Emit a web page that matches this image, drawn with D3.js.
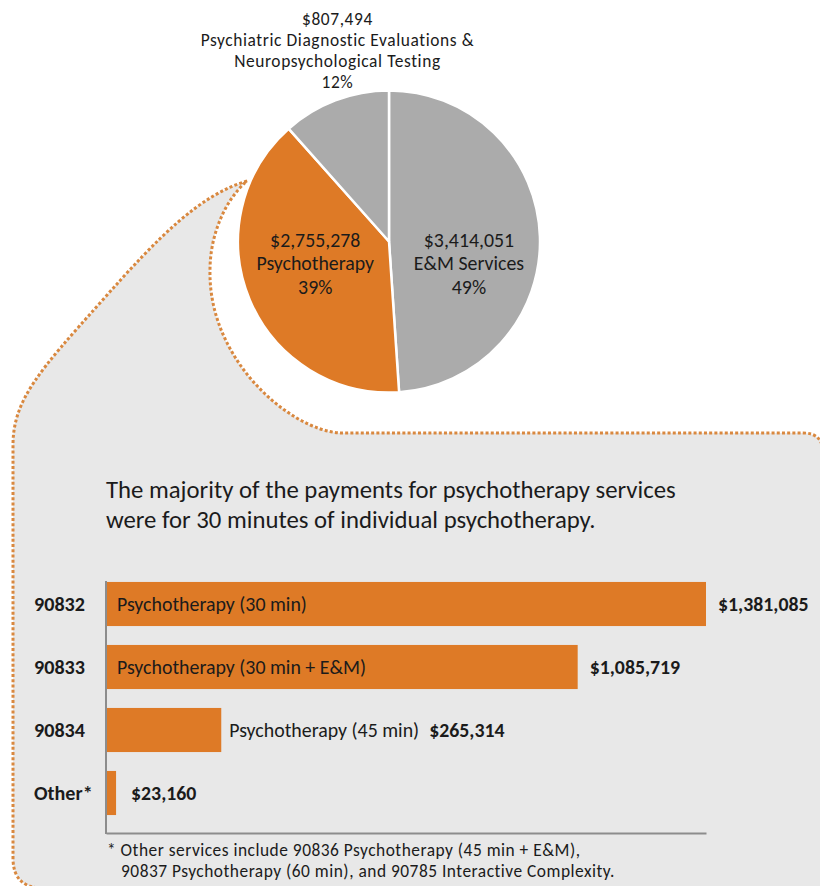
<!DOCTYPE html>
<html><head><meta charset="utf-8">
<script src="https://cdn.jsdelivr.net/npm/d3@7/dist/d3.min.js"></script>
<style>body{margin:0;background:#fff}svg{display:block}</style>
</head><body>
<svg id="c" width="820" height="886"></svg>
<script>
// ---------- data ----------
const pieCategories = ["E&M Services", "Psychotherapy", "Psychiatric Diagnostic Evaluations &|Neuropsychological Testing"];
const pieValues = [3414051, 2755278, 807494];
const pieColors = ["#ABABAB", "#DE7A26", "#ABABAB"];

const titleLines = ["The majority of the payments for psychotherapy services", "were for 30 minutes of individual psychotherapy."];

const barCodes = ["90832", "90833", "90834", "Other*"];
const barDescriptions = ["Psychotherapy (30 min)", "Psychotherapy (30 min + E&M)", "Psychotherapy (45 min)", ""];
const barValues = [1381085, 1085719, 265314, 23160];

const footnoteLines = ["* Other services include 90836 Psychotherapy (45 min + E&M),", "90837 Psychotherapy (60 min), and 90785 Interactive Complexity."];

// ---------- setup ----------
const FONT = "Carlito, Calibri, Lato, 'Open Sans', sans-serif";
const TXT = "#1b1b1b";
const svg = d3.select("#c");
const fmt = d3.format("$,");

function fitFont(str, weight, targetW) {
  const t = svg.append("text").attr("font-family", FONT).attr("font-weight", weight)
    .attr("font-size", 100).text(str);
  const w = t.node().getComputedTextLength();
  t.remove();
  return 100 * targetW / w;
}

// ---------- panel (zoom callout) ----------
svg.append("path")
  .attr("d", "M247,181 C200,195 160,235 100,303 C40,370 13,400 13,445 L13,858 Q13,888 43,888 L823,888 L823,453 Q823,433 803,433 L340,433 C290,430 208,360 210,270 C210,235 225,200 247,181 Z")
  .attr("fill", "#E8E8E8")
  .attr("stroke", "#D9883F")
  .attr("stroke-width", 3)
  .attr("stroke-dasharray", "3 2.2");

// ---------- pie ----------
const cx = 389, cy = 241.5, R = 151;
const pie = d3.pie().sort(null).value(d => d)(pieValues);
const arc = d3.arc().innerRadius(0).outerRadius(R);
const total = d3.sum(pieValues);
const gPie = svg.append("g").attr("transform", `translate(${cx},${cy})`);
gPie.selectAll("path").data(pie).join("path")
  .attr("d", arc)
  .attr("fill", (d, i) => pieColors[i])
  .attr("stroke", "#fff").attr("stroke-width", 2.5).attr("stroke-linejoin", "round");

const innerSize = (fitFont("E&M Services", 400, 110) + fitFont("Psychotherapy", 400, 118)) / 2;
const topFit = fitFont("Psychiatric Diagnostic Evaluations &", 400, 287);
const topSize = Math.min(topFit, 17.4);
const topLS = Math.min(0.6, (287 - 287 * topSize / topFit) / 35);
const topStep = topSize * 1.2 + 0.2;
const labelArc = d3.arc().innerRadius(80).outerRadius(80);

pie.forEach((d, i) => {
  const pct = Math.round(100 * d.value / total) + "%";
  const nameLines = pieCategories[i].split("|");
  const lines = [fmt(d.value), ...nameLines, pct];
  if (i < 2) {
    const [lx] = labelArc.centroid(d);
    const t = gPie.append("text").attr("text-anchor", "middle")
      .attr("font-family", FONT).attr("font-size", innerSize).attr("fill", TXT);
    lines.forEach((ln, k) => t.append("tspan").attr("x", lx).attr("y", 5 + k * 23.5).text(ln));
  } else {
    const mid = (d.startAngle + d.endAngle) / 2;
    const lx = Math.sin(mid) * 145;
    const t = gPie.append("text").attr("text-anchor", "middle")
      .attr("font-family", FONT).attr("font-size", topSize).attr("letter-spacing", topLS).attr("fill", TXT);
    lines.forEach((ln, k) => t.append("tspan").attr("x", lx).attr("y", -R - 66 + k * topStep).text(ln));
  }
});

// ---------- title ----------
const titleSize = fitFont(titleLines[0], 400, 570);
const tTitle = svg.append("text").attr("font-family", FONT).attr("font-size", titleSize).attr("fill", TXT);
titleLines.forEach((ln, k) => tTitle.append("tspan").attr("x", 106).attr("y", 498 + k * Math.max(29.5, titleSize * 1.2 + 0.3)).text(ln));

// ---------- bars ----------
const x = d3.scaleLinear().domain([0, d3.max(barValues)]).range([106, 706]);
const y = d3.scaleBand().domain(barCodes).range([572.5, 824.5]).paddingInner(0.3).paddingOuter(0.15);

const descSize = fitFont(barDescriptions[0], 400, 190);
const valSize = fitFont(fmt(barValues[0]), 700, 90.5);
const codeSize = fitFont(barCodes[0], 700, 51);

const gBars = svg.append("g");
gBars.selectAll("rect").data(barValues).join("rect")
  .attr("x", x(0)).attr("y", (d, i) => y(barCodes[i]))
  .attr("width", d => x(d) - x(0)).attr("height", y.bandwidth())
  .attr("fill", "#DE7A26");

// axis lines
const axisG = svg.append("g").attr("transform", `translate(0,833)`)
  .call(d3.axisBottom(x).ticks(0).tickSizeOuter(0));
axisG.select(".domain").attr("stroke", "#8C8C8C").attr("stroke-width", 2);
svg.append("line").attr("x1", x(0)).attr("x2", x(0)).attr("y1", y(barCodes[0]) - 1).attr("y2", 834)
  .attr("stroke", "#8C8C8C").attr("stroke-width", 2);

barValues.forEach((v, i) => {
  const yc = y(barCodes[i]) + y.bandwidth() / 2;
  svg.append("text").attr("x", 34).attr("y", yc).attr("dy", "0.36em")
    .attr("font-family", FONT).attr("font-weight", 700).attr("font-size", codeSize).attr("fill", TXT)
    .text(barCodes[i]);
  const barW = x(v) - x(0);
  let valX;
  if (barDescriptions[i]) {
    const dt = svg.append("text").attr("y", yc).attr("dy", "0.36em")
      .attr("font-family", FONT).attr("font-size", descSize).attr("fill", TXT)
      .text(barDescriptions[i]);
    const w = dt.node().getComputedTextLength();
    if (w + 24 < barW) {
      dt.attr("x", x(0) + 11);
      valX = x(v) + 12;
    } else {
      dt.attr("x", x(v) + 8);
      valX = x(v) + 8 + w + 10;
    }
  } else {
    valX = x(v) + 15;
  }
  svg.append("text").attr("x", valX).attr("y", yc).attr("dy", "0.36em")
    .attr("font-family", FONT).attr("font-weight", 700).attr("font-size", valSize).attr("fill", TXT)
    .text(fmt(v));
});

// ---------- footnote ----------
const footSize = Math.min(fitFont(footnoteLines[0], 400, 506), 17.4);
const footFit = fitFont(footnoteLines[0], 400, 506);
const footLS = Math.min(0.5, (506 - 506 * footSize / footFit) / 60);
const footStep = footSize * 1.2 + 0.3;
const tFoot = svg.append("text").attr("font-family", FONT).attr("font-size", footSize).attr("letter-spacing", footLS).attr("fill", TXT);
tFoot.append("tspan").attr("x", 107).attr("y", 856).text(footnoteLines[0]);
tFoot.append("tspan").attr("x", 121).attr("y", 856 + footStep).text(footnoteLines[1]);
</script>
</body></html>
